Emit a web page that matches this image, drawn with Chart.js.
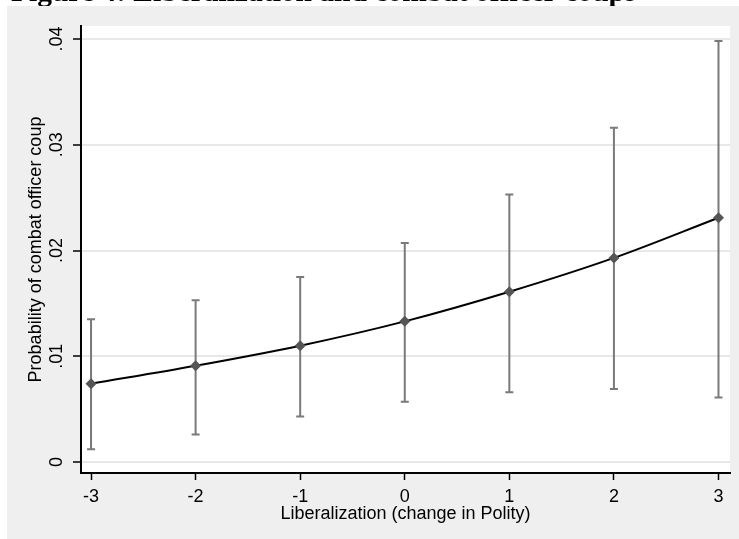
<!DOCTYPE html>
<html>
<head>
<meta charset="utf-8">
<script src="https://cdn.jsdelivr.net/npm/chart.js@4/dist/chart.umd.min.js"></script>
<style>
  body { margin: 0; background: #fff; }
  canvas { display: block; }
</style>
</head>
<body>
<canvas id="chart" width="739" height="539"></canvas>
<script>
const caption = 'Figure 4: Liberalization and combat officer coups';
const liberalization = [-3, -2, -1, 0, 1, 2, 3];
const probability = [0.0074, 0.0091, 0.0110, 0.0133, 0.0161, 0.0193, 0.0231];
const lowerCI = [0.0012, 0.0026, 0.0043, 0.0057, 0.0066, 0.0069, 0.0061];
const upperCI = [0.0135, 0.0153, 0.0175, 0.0207, 0.0253, 0.0316, 0.0398];
const xTicks = [-3, -2, -1, 0, 1, 2, 3];
const yTicks = [0, 0.01, 0.02, 0.03, 0.04];
const yTickLabels = ['0', '.01', '.02', '.03', '.04'];

const font = { family: 'Arial, "Liberation Sans", sans-serif', size: 18, lineHeight: 1.2 };

// page caption (cut off above the figure) + stata grey background + white plot region
const backdrop = {
  id: 'backdrop',
  beforeDraw(chart) {
    const { ctx, chartArea } = chart;
    ctx.save();
    ctx.fillStyle = '#000';
    ctx.font = 'bold 29.5px "Liberation Serif", "Times New Roman", serif';
    ctx.textBaseline = 'alphabetic';
    ctx.fillText(caption, 11, 0.5);
    ctx.fillStyle = '#efefef';
    ctx.fillRect(7, 6, chart.width - 7, chart.height - 6);
    ctx.fillStyle = '#fff';
    ctx.fillRect(chartArea.left, chartArea.top, chartArea.right - chartArea.left, chartArea.bottom - chartArea.top);
    ctx.restore();
  }
};

const errorBars = {
  id: 'errorBars',
  beforeDatasetsDraw(chart) {
    const { ctx, scales: { x, y } } = chart;
    ctx.save();
    ctx.strokeStyle = '#7a7a7a';
    ctx.lineWidth = 2;
    liberalization.forEach((v, i) => {
      const px = x.getPixelForValue(v);
      const top = y.getPixelForValue(upperCI[i]);
      const bot = y.getPixelForValue(lowerCI[i]);
      ctx.beginPath();
      ctx.moveTo(px, top); ctx.lineTo(px, bot);
      ctx.moveTo(px - 4, top); ctx.lineTo(px + 4, top);
      ctx.moveTo(px - 4, bot); ctx.lineTo(px + 4, bot);
      ctx.stroke();
    });
    ctx.restore();
  }
};

new Chart(document.getElementById('chart'), {
  type: 'line',
  data: {
    datasets: [{
      label: 'Probability of combat officer coup',
      data: liberalization.map((v, i) => ({ x: v, y: probability[i] })),
      borderColor: '#000',
      borderWidth: 2,
      cubicInterpolationMode: 'monotone',
      pointStyle: 'rectRot',
      pointRadius: 5.5,
      pointBackgroundColor: '#555',
      pointBorderColor: '#555',
      pointBorderWidth: 0
    }]
  },
  options: {
    responsive: false,
    devicePixelRatio: 1,
    animation: false,
    layout: { padding: { top: 26, right: 9, left: 0, bottom: 0 } },
    plugins: { legend: { display: false }, tooltip: { enabled: false } },
    scales: {
      x: {
        type: 'linear',
        min: -3.096,
        max: 3.11,
        afterBuildTicks: s => { s.ticks = xTicks.map(v => ({ value: v })); },
        afterFit: s => { s.height = 66; },
        grid: { drawOnChartArea: false, tickLength: 7, tickColor: '#000', tickWidth: 1.5 },
        border: { color: '#000', width: 2 },
        ticks: { color: '#000', font: font, padding: 6, maxRotation: 0 },
        title: { display: true, text: 'Liberalization (change in Polity)', color: '#000', font: font, padding: { top: 0, bottom: 14 } }
      },
      y: {
        min: -0.00104,
        max: 0.04123,
        afterBuildTicks: s => { s.ticks = yTicks.map(v => ({ value: v })); },
        afterFit: s => { s.width = 81; },
        grid: { color: '#e8e8e8', lineWidth: 2, tickLength: 8, tickColor: '#000', tickWidth: 1.5 },
        border: { color: '#000', width: 2 },
        ticks: {
          color: '#000', font: font, padding: 3, minRotation: 90, maxRotation: 90, crossAlign: 'center',
          callback: (v, i) => yTickLabels[i]
        },
        title: { display: true, text: 'Probability of combat officer coup', color: '#000', font: font, padding: { top: 25, bottom: 0 } }
      }
    }
  },
  plugins: [backdrop, errorBars]
});
</script>
</body>
</html>
